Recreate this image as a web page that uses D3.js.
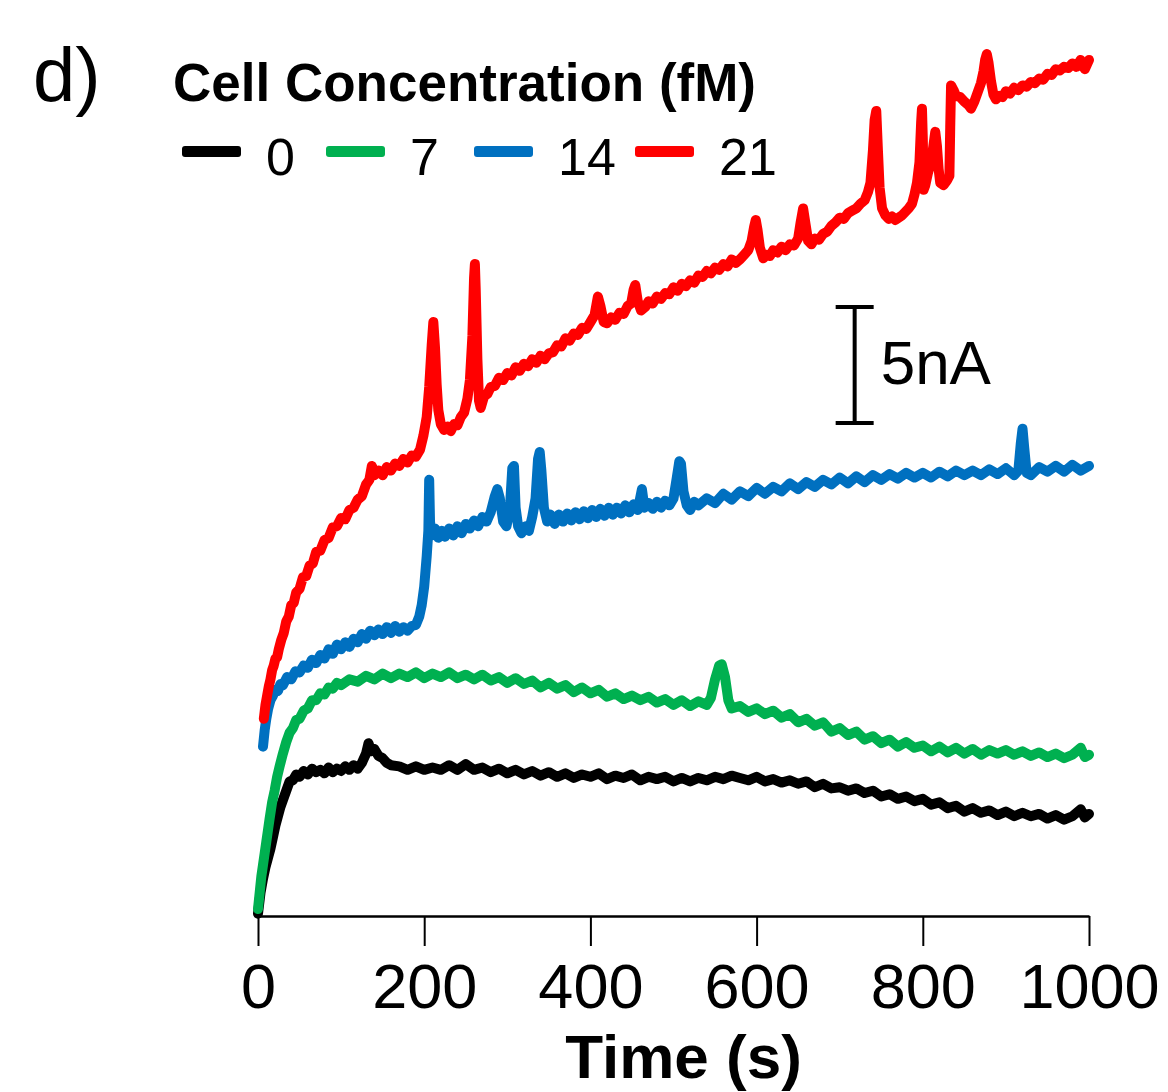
<!DOCTYPE html>
<html>
<head>
<meta charset="utf-8">
<script src="https://cdn.jsdelivr.net/npm/d3@7"></script>
<style>
  body { margin: 0; background: #fff; }
  svg text { font-family: Arial, "Liberation Sans", sans-serif; }
</style>
</head>
<body>
<div id="svg-container"></div>
<script>
// tick labels + legend
const timeTicks = [0, 200, 400, 600, 800, 1000];
const concLabels = ["0", "7", "14", "21"];
const concColors = ["#000000", "#00b050", "#0070c0", "#ff0000"];

// current traces, [time (s), current (nA)]
const trace0 = [[0,0.1],[3,1.0],[6,1.6],[9,2.1],[12,2.5],[15,2.9],[18,3.4],[21,3.9],[24,4.3],[27,4.7],[30,5.0],[34,5.4],[38,5.8],[42,5.85],[46,6.1],[50,6.0],[55,6.25],[60,6.1],[65,6.35],[70,6.2],[75,6.3],[80,6.15],[85,6.4],[90,6.2],[95,6.35],[100,6.25],[105,6.45],[110,6.3],[115,6.5],[120,6.35],[125,6.6],[130,7.0],[133,7.45],[136,7.1],[140,7.2],[145,6.9],[150,6.8],[155,6.6],[160,6.5],[170,6.45],[180,6.3],[190,6.45],[200,6.3],[210,6.4],[220,6.3],[230,6.5],[240,6.3],[250,6.55],[260,6.3],[270,6.4],[280,6.2],[290,6.35],[300,6.15],[310,6.3],[320,6.1],[330,6.25],[340,6.05],[350,6.2],[360,6.0],[370,6.15],[380,5.95],[390,6.1],[400,6.0],[410,6.15],[420,5.9],[430,6.05],[440,5.95],[450,6.1],[460,5.85],[470,6.0],[480,5.9],[490,6.0],[500,5.8],[510,5.95],[520,5.8],[530,5.95],[540,5.85],[550,6.0],[560,5.9],[570,6.05],[580,5.95],[590,5.85],[600,6.0],[610,5.8],[620,5.9],[630,5.75],[640,5.85],[650,5.7],[660,5.8],[670,5.55],[680,5.7],[690,5.5],[700,5.55],[710,5.4],[720,5.5],[730,5.3],[740,5.4],[750,5.15],[760,5.25],[770,5.05],[780,5.15],[790,4.95],[800,5.05],[810,4.8],[820,4.9],[830,4.65],[840,4.75],[850,4.5],[860,4.65],[870,4.45],[880,4.55],[890,4.35],[900,4.5],[910,4.3],[920,4.45],[930,4.3],[940,4.4],[950,4.2],[960,4.35],[970,4.15],[980,4.3],[990,4.6],[995,4.25],[1000,4.4]];

const trace7 = [[0,0.3],[2,1.0],[4,1.7],[6,2.2],[8,2.7],[10,3.2],[12,3.7],[14,4.2],[17,4.9],[20,5.4],[23,6.0],[26,6.45],[30,7.0],[34,7.5],[38,7.9],[42,8.1],[46,8.45],[50,8.5],[55,8.85],[60,8.95],[65,9.3],[70,9.3],[75,9.6],[80,9.55],[85,9.85],[90,9.8],[95,10.05],[100,9.95],[110,10.2],[120,10.1],[130,10.35],[140,10.2],[150,10.45],[160,10.25],[170,10.45],[180,10.3],[190,10.5],[200,10.25],[210,10.45],[220,10.3],[230,10.5],[240,10.25],[250,10.4],[260,10.2],[270,10.4],[280,10.15],[290,10.3],[300,10.05],[310,10.25],[320,10.0],[330,10.15],[340,9.85],[350,10.05],[360,9.8],[370,9.95],[380,9.65],[390,9.85],[400,9.6],[410,9.75],[420,9.45],[430,9.6],[440,9.35],[450,9.5],[460,9.3],[470,9.45],[480,9.2],[490,9.35],[500,9.1],[510,9.3],[520,9.05],[530,9.25],[540,9.1],[545,9.4],[550,10.2],[555,10.8],[558,10.85],[562,10.3],[566,9.3],[570,8.95],[580,9.05],[590,8.8],[600,8.95],[610,8.7],[620,8.85],[630,8.55],[640,8.7],[650,8.35],[660,8.5],[670,8.2],[680,8.35],[690,7.95],[700,8.1],[710,7.8],[720,7.95],[730,7.6],[740,7.75],[750,7.45],[760,7.6],[770,7.3],[780,7.5],[790,7.25],[800,7.35],[810,7.1],[820,7.3],[830,7.05],[840,7.25],[850,7.0],[860,7.2],[870,6.95],[880,7.15],[890,7.0],[900,7.15],[910,6.95],[920,7.1],[930,6.9],[940,7.05],[950,6.85],[960,7.0],[970,6.8],[980,6.95],[990,7.25],[995,6.85],[1000,6.95]];

const trace14 = [[6,7.3],[8,8.0],[10,8.5],[12,8.9],[15,9.3],[18,9.5],[21,9.75],[24,9.7],[27,10.0],[30,9.95],[35,10.3],[40,10.2],[45,10.55],[50,10.5],[55,10.8],[60,10.7],[65,11.05],[70,10.9],[75,11.25],[80,11.1],[85,11.5],[90,11.3],[95,11.7],[100,11.5],[105,11.8],[110,11.6],[115,11.95],[120,11.8],[125,12.15],[130,11.95],[135,12.3],[140,12.1],[145,12.35],[150,12.15],[155,12.45],[160,12.2],[165,12.5],[170,12.25],[175,12.45],[180,12.3],[185,12.5],[190,12.55],[194,12.9],[197,13.4],[200,14.2],[203,15.5],[205,16.6],[206,18.8],[207,17.0],[209,16.4],[213,16.7],[217,16.3],[221,16.6],[225,16.35],[230,16.7],[235,16.4],[240,16.8],[245,16.5],[250,16.9],[255,16.7],[260,17.05],[265,16.8],[270,17.2],[275,17.0],[280,17.4],[285,18.1],[288,18.4],[291,18.0],[295,17.0],[299,16.8],[303,17.5],[306,19.3],[308,19.4],[310,17.6],[313,16.8],[317,16.5],[322,16.8],[326,16.6],[330,17.2],[334,18.0],[337,19.7],[339,20.0],[341,19.2],[344,17.6],[348,17.0],[352,17.3],[357,16.9],[362,17.3],[367,17.0],[372,17.35],[377,17.05],[382,17.4],[387,17.1],[392,17.45],[397,17.15],[402,17.5],[407,17.2],[412,17.55],[417,17.25],[422,17.6],[427,17.3],[432,17.6],[437,17.35],[442,17.7],[447,17.4],[452,17.75],[457,17.5],[462,18.4],[465,17.6],[470,17.8],[475,17.55],[480,17.85],[485,17.6],[490,17.9],[495,17.7],[500,18.0],[504,18.9],[507,19.6],[509,19.5],[512,18.3],[516,17.7],[520,17.5],[525,17.85],[530,17.7],[540,18.0],[550,17.8],[560,18.2],[570,17.95],[580,18.3],[590,18.1],[600,18.45],[610,18.2],[620,18.5],[630,18.3],[640,18.65],[650,18.4],[660,18.7],[670,18.5],[680,18.8],[690,18.6],[700,18.9],[710,18.65],[720,18.95],[730,18.7],[740,19.0],[750,18.8],[760,19.05],[770,18.85],[780,19.1],[790,18.9],[800,19.1],[810,18.9],[820,19.15],[830,18.95],[840,19.2],[850,19.0],[860,19.2],[870,19.0],[880,19.25],[890,19.05],[900,19.3],[910,19.0],[915,19.2],[918,20.4],[920,21.0],[922,20.2],[925,19.1],[930,19.0],[940,19.35],[950,19.15],[960,19.4],[970,19.15],[980,19.45],[990,19.2],[1000,19.4]];

const trace21 = [[7,8.5],[9,9.1],[11,9.5],[13,9.9],[15,10.2],[17,10.6],[19,10.8],[21,11.1],[23,11.15],[25,11.5],[28,11.9],[31,12.2],[34,12.7],[37,12.9],[40,13.4],[43,13.5],[46,13.95],[50,14.1],[54,14.6],[58,14.65],[62,15.1],[66,15.2],[70,15.7],[75,15.75],[80,16.2],[85,16.3],[90,16.75],[95,16.8],[100,17.15],[105,17.1],[110,17.5],[115,17.6],[120,17.95],[125,18.1],[130,18.6],[134,18.8],[137,19.4],[140,19.0],[145,19.2],[150,19.0],[155,19.35],[160,19.2],[165,19.5],[170,19.4],[175,19.7],[180,19.55],[185,19.85],[190,19.8],[195,20.1],[199,20.7],[203,21.5],[206,22.8],[209,24.6],[211,25.6],[213,24.5],[215,22.9],[217,21.8],[220,21.2],[224,20.95],[228,21.1],[232,20.9],[236,21.2],[240,21.15],[244,21.5],[248,21.7],[252,22.3],[255,23.1],[258,25.0],[260,27.5],[261,28.1],[262,27.0],[264,24.0],[266,22.2],[268,21.9],[272,22.4],[276,22.5],[280,22.8],[285,22.85],[290,23.2],[295,23.1],[300,23.4],[305,23.3],[310,23.65],[315,23.5],[320,23.8],[325,23.7],[330,24.0],[335,23.85],[340,24.15],[345,24.0],[350,24.25],[355,24.3],[360,24.6],[365,24.55],[370,24.9],[375,24.8],[380,25.1],[385,25.05],[390,25.35],[395,25.3],[400,25.6],[405,25.9],[409,26.7],[412,26.3],[416,25.6],[420,25.55],[425,25.8],[430,25.7],[435,26.0],[440,25.95],[445,26.3],[449,26.4],[452,27.0],[454,27.2],[457,26.5],[461,26.1],[466,26.25],[470,26.5],[475,26.4],[480,26.7],[485,26.6],[490,26.85],[495,26.8],[500,27.1],[505,26.95],[510,27.25],[515,27.15],[520,27.4],[525,27.3],[530,27.6],[535,27.55],[540,27.8],[545,27.7],[550,27.95],[555,27.85],[560,28.1],[565,28.0],[570,28.3],[575,28.15],[580,28.3],[585,28.5],[590,28.7],[594,29.1],[597,29.7],[599,30.0],[601,29.6],[604,28.8],[608,28.35],[612,28.5],[616,28.45],[620,28.7],[625,28.6],[630,28.85],[635,28.7],[640,28.95],[645,28.9],[650,29.2],[653,29.9],[656,30.5],[659,29.8],[662,29.1],[666,28.95],[670,29.2],[675,29.15],[680,29.4],[685,29.5],[690,29.75],[695,29.9],[700,30.1],[705,30.05],[710,30.3],[715,30.4],[720,30.5],[725,30.7],[730,30.85],[734,31.2],[737,31.6],[740,33.0],[742,34.3],[744,34.7],[746,33.0],[748,31.4],[751,30.5],[755,30.2],[759,30.05],[763,30.15],[767,30.0],[771,30.1],[775,30.2],[779,30.35],[783,30.5],[787,30.7],[790,31.1],[793,31.6],[796,32.5],[798,34.2],[799,34.8],[800,33.5],[801,31.3],[803,31.5],[806,32.0],[809,32.4],[812,33.0],[815,33.8],[817,33.2],[819,32.2],[821,31.6],[825,31.5],[829,31.7],[832,31.9],[833,34.0],[834,35.8],[837,35.6],[840,35.35],[845,35.3],[850,35.1],[855,34.95],[858,34.8],[862,35.1],[866,35.5],[870,35.9],[873,36.4],[875,36.9],[877,37.15],[879,36.8],[882,36.0],[885,35.4],[888,35.2],[892,35.35],[896,35.3],[900,35.55],[905,35.45],[910,35.7],[915,35.6],[920,35.8],[925,35.75],[930,35.95],[935,35.9],[940,36.1],[945,36.05],[950,36.3],[955,36.25],[960,36.5],[965,36.45],[970,36.6],[975,36.55],[980,36.75],[985,36.6],[990,36.9],[995,36.5],[1000,36.9]];

const traces = [trace0, trace7, trace14, trace21];

// 5 nA scale bar, placed at t = 718 s
const scaleBarT = 718;
const scaleBarRange = [21.25, 26.25];

const width = 1168, height = 1092;
const axisY = 916;

const svg = d3.select("#svg-container").append("svg")
    .attr("width", width)
    .attr("height", height);

const x = d3.scaleLinear().domain([0, 1000]).range([258, 1089]);
// 5 nA spans 116 px
const y = d3.scaleLinear().domain([0, 5]).range([axisY, axisY - 116]);

const line = d3.line()
    .x(d => x(d[0]))
    .y(d => y(d[1]));

svg.selectAll(".trace")
    .data(traces)
    .enter().append("path")
    .attr("class", "trace")
    .attr("d", line)
    .attr("fill", "none")
    .attr("stroke", (d, i) => concColors[i])
    .attr("stroke-width", 10)
    .attr("stroke-linejoin", "round")
    .attr("stroke-linecap", "round");

// x axis
const xAxis = svg.append("g")
    .attr("transform", `translate(0,${axisY})`)
    .call(d3.axisBottom(x).tickValues(timeTicks).tickSize(30).tickSizeOuter(0).tickFormat(d3.format("d")));

xAxis.select(".domain").attr("stroke-width", 2.5);
xAxis.selectAll(".tick line").attr("stroke-width", 2);
xAxis.selectAll(".tick text")
    .attr("y", 92)
    .attr("dy", 0)
    .attr("fill", "#000")
    .style("font-size", "63px")
    .style("font-family", "Arial, 'Liberation Sans', sans-serif");

svg.append("text")
    .attr("x", x(500) + 10)
    .attr("y", 1078)
    .attr("text-anchor", "middle")
    .style("font-size", "62px")
    .style("font-weight", "bold")
    .text("Time (s)");

// scale bar
const sb = svg.append("g").attr("stroke", "#000").attr("stroke-width", 4);
sb.append("line")
    .attr("x1", x(scaleBarT)).attr("x2", x(scaleBarT))
    .attr("y1", y(scaleBarRange[0])).attr("y2", y(scaleBarRange[1]));
scaleBarRange.forEach(v => {
    sb.append("line")
        .attr("x1", x(scaleBarT) - 19).attr("x2", x(scaleBarT) + 19)
        .attr("y1", y(v)).attr("y2", y(v));
});
svg.append("text")
    .attr("x", x(scaleBarT) + 26)
    .attr("y", 384)
    .style("font-size", "62px")
    .text("5nA");

// panel label + legend
svg.append("text")
    .attr("x", 33)
    .attr("y", 101)
    .style("font-size", "76px")
    .text("d)");

svg.append("text")
    .attr("x", 173)
    .attr("y", 101)
    .style("font-size", "53px")
    .style("font-weight", "bold")
    .text("Cell Concentration (fM)");

const legendX = [182, 326, 474, 635];
const legend = svg.selectAll(".legend")
    .data(concLabels)
    .enter().append("g")
    .attr("class", "legend")
    .attr("transform", (d, i) => `translate(${legendX[i]},0)`);

legend.append("rect")
    .attr("x", 0).attr("y", 146)
    .attr("width", 59).attr("height", 11)
    .attr("rx", 3)
    .attr("fill", (d, i) => concColors[i]);

legend.append("text")
    .attr("x", 84)
    .attr("y", 175)
    .style("font-size", "52px")
    .text(d => d);
</script>
</body>
</html>
